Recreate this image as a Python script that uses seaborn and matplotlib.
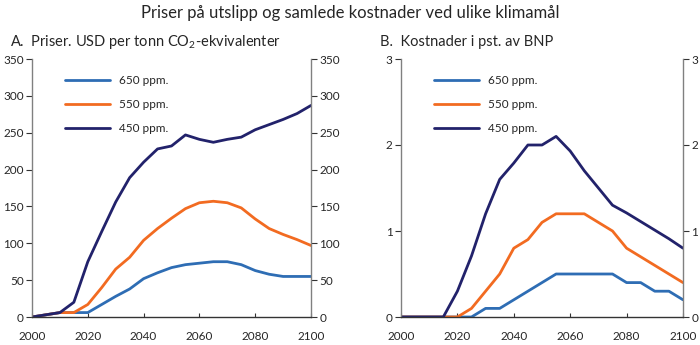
import numpy as np
import pandas as pd
import seaborn as sns
import matplotlib
matplotlib.use("Agg")
import matplotlib.pyplot as plt

years = list(range(2000, 2101, 5))
scenarios = ["650 ppm.", "550 ppm.", "450 ppm."]

# Panel A: prices, USD per tonne CO2-eq
price_650 = [0, 3, 6, 6, 6, 17, 28, 38, 52, 60, 67, 71, 73, 75, 75, 71, 63, 58, 55, 55, 55]
price_550 = [0, 3, 6, 6, 17, 40, 65, 81, 104, 120, 134, 147, 155, 157, 155, 148, 133, 120, 112, 105, 97]
price_450 = [0, 3, 6, 20, 75, 116, 156, 189, 210, 228, 232, 247, 241, 237, 241, 244, 254, 261, 268, 276, 287]

# Panel B: costs, percent of GDP
cost_650 = [0, 0, 0, 0, 0, 0, 0.1, 0.1, 0.2, 0.3, 0.4, 0.5, 0.5, 0.5, 0.5, 0.5, 0.4, 0.4, 0.3, 0.3, 0.2]
cost_550 = [0, 0, 0, 0, 0, 0.1, 0.3, 0.5, 0.8, 0.9, 1.1, 1.2, 1.2, 1.2, 1.1, 1.0, 0.8, 0.7, 0.6, 0.5, 0.4]
cost_450 = [0, 0, 0, 0, 0.3, 0.71, 1.2, 1.6, 1.79, 2.0, 2.0, 2.1, 1.93, 1.7, 1.5, 1.3, 1.21, 1.11, 1.01, 0.91, 0.8]

colors = {"650 ppm.": "#2E6DB4", "550 ppm.": "#F26B21", "450 ppm.": "#22226B"}

def long_df(a, b, c):
    rows = []
    for name, vals in zip(scenarios, [a, b, c]):
        for y, v in zip(years, vals):
            rows.append({"year": y, "value": v, "scenario": name})
    return pd.DataFrame(rows)

dfA = long_df(price_650, price_550, price_450)
dfB = long_df(cost_650, cost_550, cost_450)

sns.set_theme(style="white")
plt.rcParams["font.family"] = ["Lato", "DejaVu Sans"]
plt.rcParams["mathtext.fontset"] = "custom"
plt.rcParams["mathtext.rm"] = "Lato"
plt.rcParams["mathtext.it"] = "Lato:italic"

fig = plt.figure(figsize=(7.0, 3.45), dpi=100)
W, H = 700, 345
axA = fig.add_axes([32 / W, 1 - 317 / H, (311 - 32) / W, (317 - 59) / H])
axB = fig.add_axes([401 / W, 1 - 317 / H, (683 - 401) / W, (317 - 59) / H])

for ax, df, ylim, yt in [(axA, dfA, (0, 350), range(0, 351, 50)),
                         (axB, dfB, (0, 3), range(0, 4))]:
    sns.lineplot(data=df, x="year", y="value", hue="scenario", hue_order=scenarios,
                 palette=colors, linewidth=2.0, ax=ax)
    ax.set_xlim(2000, 2100)
    ax.set_ylim(*ylim)
    ax.set_xticks(range(2000, 2101, 20))
    ax.set_yticks(list(yt))
    ax.set_xlabel("")
    ax.set_ylabel("")
    ax.spines["top"].set_visible(False)
    for s in ["left", "right"]:
        ax.spines[s].set_color("#808080")
        ax.spines[s].set_linewidth(1.0)
    ax.spines["bottom"].set_color("#333333")
    ax.spines["bottom"].set_linewidth(1.0)
    ax.tick_params(axis="y", which="both", left=True, right=True, labelleft=True,
                   labelright=True, direction="out", length=4, width=0.8,
                   color="#333333", labelsize=8.5, pad=2)
    ax.tick_params(axis="x", bottom=True, direction="in", length=3, width=0.8,
                   color="#333333", labelsize=8.5, pad=10)
    leg = ax.legend(loc="upper left", bbox_to_anchor=(0.08, 0.98), frameon=False,
                    fontsize=8.5, handlelength=3.8, labelspacing=1.1, handletextpad=0.8)
    for line in leg.get_lines():
        line.set_linewidth(2.0)

fig.text(0.5, 1 - 13 / H, "Priser på utslipp og samlede kostnader ved ulike klimamål",
         ha="center", va="center", fontsize=12)
fig.text(10 / W, 1 - 42 / H, "A.  Priser. USD per tonn CO$_2$-ekvivalenter",
         ha="left", va="center", fontsize=10.5)
fig.text(380 / W, 1 - 42 / H, "B.  Kostnader i pst. av BNP",
         ha="left", va="center", fontsize=10.5)

fig.savefig("out.png", dpi=100)
